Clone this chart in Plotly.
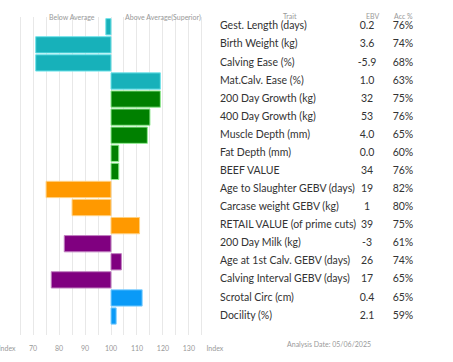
import plotly.graph_objects as go

traits = ["Gest. Length (days)", "Birth Weight (kg)", "Calving Ease (%)", "Mat.Calv. Ease (%)",
          "200 Day Growth (kg)", "400 Day Growth (kg)", "Muscle Depth (mm)", "Fat Depth (mm)",
          "BEEF VALUE", "Age to Slaughter GEBV (days)", "Carcase weight GEBV (kg)",
          "RETAIL VALUE (of prime cuts)", "200 Day Milk (kg)", "Age at 1st Calv. GEBV (days)",
          "Calving Interval GEBV (days)", "Scrotal Circ (cm)", "Docility (%)"]
ebv = ["0.2", "3.6", "-5.9", "1.0", "32", "53", "4.0", "0.0", "34", "19", "1", "39", "-3", "26", "17", "0.4", "2.1"]
acc = ["76%", "74%", "68%", "63%", "75%", "76%", "65%", "60%", "76%", "82%", "80%", "75%", "61%", "74%", "65%", "65%", "59%"]
index_vals = [98, 71, 71, 119, 119, 115, 114, 103, 103, 75, 85, 111, 82, 104, 77, 112, 102]
groups = ["teal"] * 4 + ["green"] * 5 + ["orange"] * 3 + ["purple"] * 3 + ["blue"] * 2

tick_vals = list(range(60, 141, 5))
tick_text = ["Index" if v in (60, 140) else (str(v) if v % 10 == 0 else "") for v in tick_vals]

fill = {"teal": "#17b1ba", "green": "#008000", "orange": "#ff9900", "purple": "#800080", "blue": "#0a9af7"}
edge = {"teal": "#6fe3ea", "green": "#8fe88f", "orange": "#ffd080", "purple": "#c080c0", "blue": "#80cfff"}

FONT = "Lato"
fig = go.Figure()
fig.add_trace(go.Bar(
    y=traits, x=[v - 100 for v in index_vals], base=100, orientation="h", width=0.9,
    marker=dict(color=[fill[g] for g in groups], line=dict(color=[edge[g] for g in groups], width=1)),
    showlegend=False, hoverinfo="skip"))

fig.add_trace(go.Scatter(x=[220] * len(traits), y=traits, text=traits, mode="text",
                         textposition="middle right", xaxis="x2",
                         textfont=dict(family=FONT, size=10.5, color="#333333"), showlegend=False))
fig.add_trace(go.Scatter(x=[367] * len(traits), y=traits, text=ebv, mode="text",
                         textposition="middle center", xaxis="x2",
                         textfont=dict(family=FONT, size=10.5, color="#333333"), showlegend=False))
fig.add_trace(go.Scatter(x=[403] * len(traits), y=traits, text=acc, mode="text",
                         textposition="middle center", xaxis="x2",
                         textfont=dict(family=FONT, size=10.5, color="#333333"), showlegend=False))

small = dict(family=FONT, size=7, color="#999999")
ann = [
    dict(x=85, y=1 - 11 / 362, xref="x", yref="paper", text="Below Average", showarrow=False, font=small),
    dict(x=120, y=1 - 11 / 362, xref="x", yref="paper", text="Above Average(Superior)", showarrow=False, font=small),
    dict(x=290, y=1 - 10 / 362, xref="x2", yref="paper", text="Trait", showarrow=False, font=small),
    dict(x=372, y=1 - 10 / 362, xref="x2", yref="paper", text="EBV", showarrow=False, font=small),
    dict(x=403, y=1 - 10 / 362, xref="x2", yref="paper", text="Acc %", showarrow=False, font=small),
    dict(x=329, y=1 - 350 / 362, xref="x2", yref="paper", text="Analysis Date: 05/06/2025", showarrow=False, font=small),
]

fig.update_layout(
    width=453, height=362, margin=dict(l=0, r=0, t=0, b=0, autoexpand=False),
    paper_bgcolor="white", plot_bgcolor="white", bargap=0.1,
    xaxis=dict(domain=[7 / 453, 215 / 453], range=[59.95, 140.05], tickvals=tick_vals, ticktext=tick_text,
               showgrid=True, gridcolor="#e8e8e8", gridwidth=1, zeroline=False, showline=False,
               tickfont=small, ticklabelstandoff=8, ticklabeloverflow="allow", automargin=False,
               fixedrange=True),
    xaxis2=dict(domain=[215 / 453, 1], range=[215, 453], anchor="y", visible=False, automargin=False),
    yaxis=dict(domain=[1 - 335 / 362, 1 - 17 / 362], type="category", range=[17.05, -0.54],
               showticklabels=False, showgrid=False, zeroline=False, automargin=False),
    annotations=ann,
)
fig.write_html("out.html", config={"displayModeBar": False},
               post_script="document.body.style.margin='0';")
